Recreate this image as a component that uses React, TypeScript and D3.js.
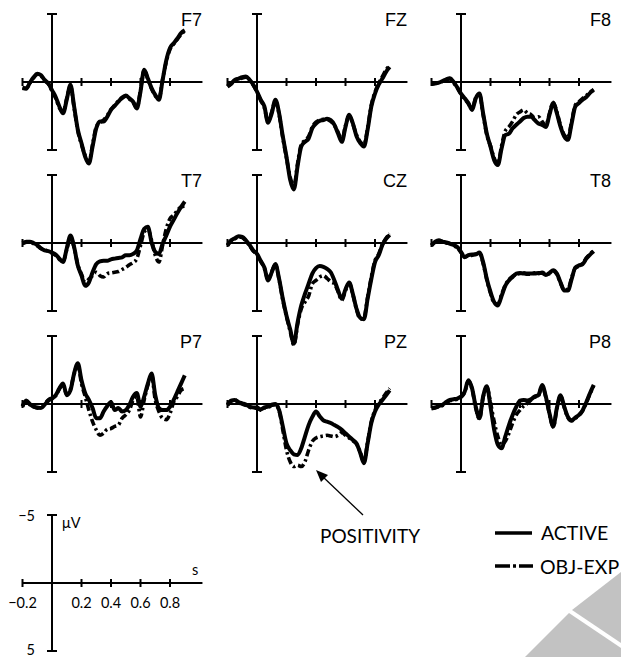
import React from "react";
import * as d3 from "d3";

// sampling times (s)
const TIMES = [
  -0.2, -0.175, -0.15, -0.125, -0.1, -0.075, -0.05, -0.025, 0,
  0.025, 0.05, 0.075, 0.1, 0.125, 0.15, 0.175, 0.2, 0.225,
  0.25, 0.275, 0.3, 0.325, 0.35, 0.375, 0.4, 0.425, 0.45,
  0.475, 0.5, 0.525, 0.55, 0.575, 0.6, 0.625, 0.65, 0.675,
  0.7, 0.725, 0.75, 0.775, 0.8, 0.825, 0.85, 0.875, 0.9,
];

// amplitudes in microvolts (negative plotted up)
const F7_ACTIVE = [
  0.45, 0.5, 0.05, -0.35, -0.6, -0.5, -0.15, 0.1, 0.6,
  1.1, 1.8, 2.3, 1.3, 0.2, 1.8, 3.5, 4.5, 5.5,
  6.0, 4.75, 3.4, 2.9, 2.9, 2.55, 2.05, 1.75, 1.45,
  1.15, 1.0, 1.2, 1.45, 1.95, 0.7, -0.9, -0.25, 0.45,
  0.95, 1.3, -0.15, -1.6, -2.5, -2.85, -3.2, -3.6, -3.8,
];
const F7_OBJ = [
  0.4, 0.45, 0.1, -0.3, -0.55, -0.45, -0.1, 0.15, 0.65,
  1.2, 1.9, 2.2, 1.2, 0.3, 1.9, 3.6, 4.6, 5.4,
  5.9, 4.6, 3.3, 3.0, 2.8, 2.45, 2.0, 1.7, 1.4,
  1.2, 1.05, 1.25, 1.5, 1.9, 0.6, -0.85, -0.2, 0.5,
  1.0, 1.25, -0.2, -1.5, -2.4, -2.8, -3.15, -3.5, -3.75,
];
const FZ_ACTIVE = [
  0.3, 0.1, -0.15, -0.25, -0.35, -0.4, -0.15, 0.2, 0.7,
  1.3, 1.8, 3.0, 2.3, 1.3, 2.3, 4.0, 5.5, 7.2,
  7.9, 6.2, 4.75, 4.4, 4.15, 3.4, 3.05, 2.85, 2.8,
  2.7, 2.8, 3.15, 3.8, 4.4, 3.3, 2.4, 3.05, 4.0,
  4.5, 4.75, 3.5, 1.8, 0.85, 0.2, -0.25, -0.75, -1.1,
];
const FZ_OBJ = [
  0.35, 0.15, -0.1, -0.2, -0.3, -0.35, -0.1, 0.25, 0.75,
  1.35, 1.9, 2.9, 2.2, 1.4, 2.4, 4.1, 5.6, 7.0,
  7.7, 6.0, 4.6, 4.3, 4.0, 3.3, 2.95, 2.8, 2.75,
  2.75, 2.9, 3.2, 3.7, 4.3, 3.2, 2.5, 3.1, 3.9,
  4.4, 4.6, 3.4, 1.7, 0.75, 0.1, -0.4, -0.9, -1.2,
];
const F8_ACTIVE = [
  0.15, 0.1, 0.05, -0.07, -0.2, -0.27, 0, 0.4, 0.85,
  1.2, 1.55, 2.05, 1.2, 0.85, 2.3, 3.8, 4.75, 5.75,
  6.1, 4.9, 3.9, 3.8, 3.4, 3.15, 2.9, 2.65, 2.55,
  2.55, 2.8, 3.05, 3.15, 3.3, 2.4, 1.55, 2.3, 3.3,
  4.0, 4.25, 3.05, 1.8, 1.55, 1.3, 1.1, 0.8, 0.6,
];
const F8_OBJ = [
  0.15, 0.1, 0.05, -0.05, -0.15, -0.25, 0.05, 0.45, 0.9,
  1.25, 1.6, 2.0, 1.15, 0.9, 2.4, 3.9, 4.7, 5.6,
  6.0, 4.7, 3.6, 3.3, 2.9, 2.4, 2.2, 2.05, 2.3,
  2.4, 2.65, 2.55, 2.9, 3.2, 2.3, 1.5, 2.2, 3.2,
  3.9, 4.1, 2.9, 1.7, 1.45, 1.2, 1.0, 0.75, 0.55,
];
const T7_ACTIVE = [
  0, -0.1, -0.1, 0, 0.15, 0.4, 0.55, 0.6, 0.7,
  0.85, 1.15, 1.4, 0.4, -0.55, 0.3, 1.65, 2.4, 3.15,
  2.9, 2.15, 1.55, 1.35, 1.3, 1.3, 1.2, 1.15, 1.1,
  1.05, 0.9, 0.9, 0.8, 0.55, -0.3, -1.05, -1.2, -0.05,
  0.65, 0.8, 0.05, -0.55, -1.2, -1.7, -2.2, -2.65, -3.05,
];
const T7_OBJ = [
  0.05, -0.05, -0.1, 0.05, 0.2, 0.4, 0.5, 0.6, 0.75,
  0.9, 1.2, 1.35, 0.5, -0.45, 0.35, 1.6, 2.3, 2.9,
  2.65, 2.4, 2.15, 2.4, 2.5, 2.25, 2.2, 2.15, 2.1,
  1.95, 1.8, 1.6, 1.45, 1.15, 0.2, -0.8, -1.05, -0.2,
  0.9, 1.4, 0.15, -1.05, -1.8, -2.05, -2.4, -2.65, -2.7,
];
const CZ_ACTIVE = [
  0.15, -0.2, -0.35, -0.5, -0.45, -0.2, 0.15, 0.55, 0.8,
  1.3, 1.8, 2.75, 2.15, 1.55, 2.65, 4.1, 5.35, 6.35,
  7.4, 5.85, 4.6, 3.75, 3.0, 2.25, 1.85, 1.7, 1.75,
  1.9, 2.15, 2.75, 3.5, 4.1, 3.4, 2.9, 3.75, 4.85,
  5.5, 5.6, 4.1, 2.65, 1.4, 0.9, 0.15, -0.3, -0.6,
];
const CZ_OBJ = [
  0.2, -0.15, -0.3, -0.45, -0.4, -0.15, 0.2, 0.6, 0.85,
  1.35, 1.85, 2.7, 2.1, 1.6, 2.7, 4.2, 5.4, 6.5,
  7.5, 6.0, 4.85, 4.35, 3.9, 3.0, 2.75, 2.5, 2.4,
  2.6, 2.85, 3.0, 3.6, 4.2, 3.5, 2.95, 3.8, 4.9,
  5.6, 5.5, 4.0, 2.5, 1.3, 0.8, 0.1, -0.35, -0.7,
];
const T8_ACTIVE = [
  0.15, -0.1, -0.2, -0.1, -0.05, 0.05, 0.15, 0.3, 0.65,
  1.05, 0.9, 0.85, 0.85, 0.7, 1.4, 2.65, 3.6, 4.35,
  4.6, 3.9, 3.15, 2.75, 2.5, 2.25, 2.2, 2.25, 2.25,
  2.25, 2.25, 2.2, 2.2, 2.35, 2.2, 2.0, 2.25, 2.9,
  3.5, 3.5, 2.65, 1.8, 1.65, 1.55, 1.15, 0.85, 0.6,
];
const T8_OBJ = [
  0.2, -0.05, -0.15, -0.1, 0, 0.05, 0.2, 0.35, 0.7,
  1.0, 0.95, 0.9, 0.8, 0.75, 1.5, 2.7, 3.7, 4.4,
  4.5, 3.8, 3.1, 2.7, 2.45, 2.3, 2.25, 2.2, 2.3,
  2.3, 2.2, 2.25, 2.15, 2.3, 2.25, 2.05, 2.3, 2.95,
  3.45, 3.4, 2.55, 1.85, 1.7, 1.5, 1.1, 0.8, 0.55,
];
const P7_ACTIVE = [
  0.15, -0.25, 0, 0.2, 0.25, 0.3, 0.05, -0.25, -0.4,
  -0.65, -1.15, -1.5, -0.65, -1.0, -2.25, -3.0, -1.75, -0.8,
  -0.3, 0.3, 1.05, 1.05, 0.55, 0.15, -0.15, 0.45, 0.3,
  0.55, 0.45, 0.05, -0.55, -0.8, 0.2, -0.55, -1.5, -2.25,
  -0.65, 0.3, 0.45, 0.45, 0.2, -0.3, -0.9, -1.5, -2.1,
];
const P7_OBJ = [
  0.2, -0.2, 0.05, 0.2, 0.3, 0.25, 0.0, -0.3, -0.45,
  -0.6, -1.1, -1.4, -0.7, -1.1, -2.2, -2.9, -1.5, -0.55,
  0.45, 1.3, 1.9, 2.3, 2.15, 1.85, 1.8, 1.65, 1.55,
  1.05, 0.8, 0.45, -0.3, -0.55, 0.95, -0.3, -1.4, -2.1,
  -0.3, 0.55, 1.05, 1.15, 0.7, -0.15, -0.55, -1.0, -1.15,
];
const PZ_ACTIVE = [
  0.05, -0.25, -0.3, -0.15, -0.05, 0.05, 0.2, 0.25, 0.25,
  0.4, 0.25, 0.2, 0.05, 0, 0.45, 1.65, 2.9, 3.4,
  3.7, 3.75, 3.25, 2.4, 1.55, 0.95, 0.55, 0.9, 1.2,
  1.3, 1.4, 1.55, 1.7, 1.9, 2.15, 2.4, 2.65, 2.9,
  3.6, 4.35, 2.9, 1.4, 0.55, 0.05, -0.3, -0.65, -1.0,
];
const PZ_OBJ = [
  0.1, -0.2, -0.3, -0.1, 0, 0.1, 0.25, 0.3, 0.3,
  0.45, 0.3, 0.25, 0.1, 0.05, 0.5, 1.9, 3.4, 4.25,
  4.6, 4.5, 4.6, 4.25, 3.4, 2.75, 2.5, 2.4, 2.35,
  2.3, 2.35, 2.4, 2.3, 2.1, 2.3, 2.5, 2.7, 2.95,
  3.55, 4.25, 2.8, 1.3, 0.45, -0.05, -0.4, -0.8, -1.15,
];
const P8_ACTIVE = [
  0.3, 0.25, 0.15, 0.05, -0.15, -0.3, -0.35, -0.4, -0.55,
  -0.9, -1.75, -1.15, 0.2, 1.05, -0.55, -1.3, 0.2, 1.9,
  3.0, 3.25, 2.4, 1.55, 0.8, 0.2, -0.25, -0.3, -0.25,
  -0.35, -0.55, -0.65, -1.4, -0.55, 0.7, 1.65, 0.3, -0.65,
  0.2, 0.95, 1.2, 1.0, 0.8, 0.45, -0.15, -0.8, -1.4,
];
const P8_OBJ = [
  0.35, 0.3, 0.2, 0.1, -0.1, -0.25, -0.3, -0.35, -0.5,
  -0.85, -1.7, -1.1, 0.3, 1.1, -0.5, -1.25, -0.1, 1.3,
  2.4, 3.0, 2.75, 2.15, 1.4, 0.8, 0.45, 0.15, -0.05,
  -0.3, -0.5, -0.6, -1.35, -0.5, 0.75, 1.7, 0.35, -0.6,
  0.25, 1.0, 1.25, 1.05, 0.85, 0.5, -0.1, -0.75, -1.35,
];

const CHANNELS = ["F7", "FZ", "F8", "T7", "CZ", "T8", "P7", "PZ", "P8"];
const ACTIVE = [F7_ACTIVE, FZ_ACTIVE, F8_ACTIVE, T7_ACTIVE, CZ_ACTIVE, T8_ACTIVE, P7_ACTIVE, PZ_ACTIVE, P8_ACTIVE];
const OBJ_EXP = [F7_OBJ, FZ_OBJ, F8_OBJ, T7_OBJ, CZ_OBJ, T8_OBJ, P7_OBJ, PZ_OBJ, P8_OBJ];

const TIME_TICKS = [-0.2, 0.2, 0.4, 0.6, 0.8];
const TICK_LABELS = ["\u22120.2", "0.2", "0.4", "0.6", "0.8"];
const LEGEND = ["ACTIVE", "OBJ-EXP"];

const W = 621;
const H = 657;
const COL_X = [52, 257, 461];
const ROW_Y = [82, 243, 404];
const PX_PER_S = 147.5;
const HALF = 68;
const DASH = "7,3,2.5,3";
const sans = "Lato, 'Open Sans', sans-serif";

function makeScales(ax: number, zero: number) {
  const x = d3.scaleLinear().domain([0, 1]).range([ax, ax + PX_PER_S]);
  const y = d3.scaleLinear().domain([-5, 5]).range([zero - HALF, zero + HALF]);
  return { x, y };
}

function Axes({ ax, zero }: { ax: number; zero: number }) {
  const { x, y } = makeScales(ax, zero);
  return (
    <g stroke="#000" strokeWidth={2} fill="none">
      <line x1={ax} x2={ax} y1={y(-5)} y2={y(5)} />
      <line x1={ax - 5} x2={ax + 5} y1={y(-5)} y2={y(-5)} />
      <line x1={ax - 5} x2={ax + 5} y1={y(5)} y2={y(5)} />
      <line x1={x(-0.2)} x2={x(1.02)} y1={zero} y2={zero} />
      {TIME_TICKS.map((t) => (
        <line key={t} x1={x(t)} x2={x(t)} y1={zero - 4} y2={zero + 4} />
      ))}
    </g>
  );
}

function Panel({ idx }: { idx: number }) {
  const ax = COL_X[idx % 3];
  const zero = ROW_Y[Math.floor(idx / 3)];
  const { x, y } = makeScales(ax, zero);
  const line = d3
    .line<number>()
    .x((_, i) => x(TIMES[i]))
    .y((v) => y(v))
    .curve(d3.curveMonotoneX);
  return (
    <g>
      <Axes ax={ax} zero={zero} />
      <path d={line(OBJ_EXP[idx]) || ""} fill="none" stroke="#000" strokeWidth={3.6}
        strokeDasharray={DASH} strokeLinejoin="round" />
      <path d={line(ACTIVE[idx]) || ""} fill="none" stroke="#000" strokeWidth={4}
        strokeLinejoin="round" />
      <text x={ax + 150} y={zero - 56} textAnchor="end"
        style={{ fontFamily: "'Liberation Sans', Arial, sans-serif", fontSize: 18 }}>
        {CHANNELS[idx]}
      </text>
    </g>
  );
}

export default function App() {
  const ax = 52;
  const zero = 583;
  const { x, y } = makeScales(ax, zero);
  return (
    <svg width={W} height={H} viewBox={`0 0 ${W} ${H}`}
      style={{ position: "absolute", left: 0, top: 0, background: "#fff" }}>
      <rect width={W} height={H} fill="#fff" />

      {/* corner mark */}
      <polygon points="621,572 572,610 621,643" fill="#c2c2c2" />
      <polygon points="525,657 569,613 621,648 621,657" fill="#c2c2c2" />

      {CHANNELS.map((_, i) => (
        <Panel key={i} idx={i} />
      ))}

      {/* calibration axes */}
      <Axes ax={ax} zero={zero} />
      <g style={{ fontFamily: sans, fontSize: 14.5 }} fill="#000">
        <text x={ax - 17} y={y(-5) + 6} textAnchor="end">{"\u22125"}</text>
        <text x={ax - 17} y={y(5) + 4} textAnchor="end">5</text>
        <text x={ax + 10} y={y(-5) + 13}>{"\u03bcV"}</text>
        <text x={x(0.97)} y={zero - 8} textAnchor="middle">s</text>
        {TIME_TICKS.map((t, i) => (
          <text key={t} x={x(t)} y={zero + 25} textAnchor="middle">{TICK_LABELS[i]}</text>
        ))}
      </g>

      {/* annotation */}
      <line x1={363} y1={515} x2={322} y2={476} stroke="#000" strokeWidth={1.3} />
      <path d="M316,470 L328,475 L321,482 Z" fill="#000" />
      <text x={370} y={543} textAnchor="middle" style={{ fontFamily: sans, fontSize: 19 }}>
        POSITIVITY
      </text>

      {/* legend */}
      <line x1={495} x2={532} y1={533} y2={533} stroke="#000" strokeWidth={3.5} />
      <line x1={495} x2={533} y1={566} y2={566} stroke="#000" strokeWidth={3.5}
        strokeDasharray="15,3,3,3" />
      <g style={{ fontFamily: sans, fontSize: 19.5 }} fill="#000">
        <text x={541} y={540}>{LEGEND[0]}</text>
        <text x={540} y={574}>{LEGEND[1]}</text>
      </g>
    </svg>
  );
}
